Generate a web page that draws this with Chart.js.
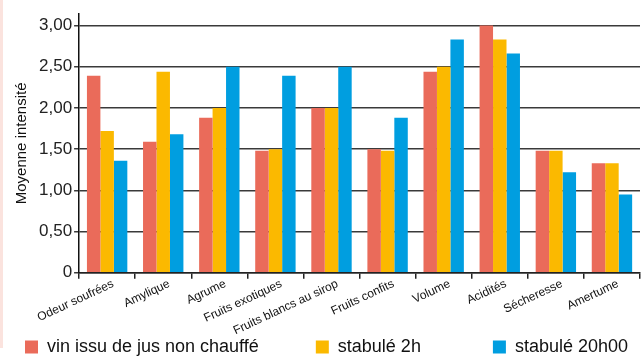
<!DOCTYPE html>
<html>
<head>
<meta charset="utf-8">
<script src="https://cdn.jsdelivr.net/npm/chart.js@4/dist/chart.umd.min.js"></script>
<style>
  html, body { margin: 0; padding: 0; background: #fff; }
  #wrap { position: relative; width: 641px; height: 359px; overflow: hidden; }
  #edge { position: absolute; left: 0; top: 0; width: 3px; height: 348px; background: #fbe3de; }
</style>
</head>
<body>
<div id="wrap">
  <div id="edge"></div>
  <canvas id="my-chart" width="641" height="366"></canvas>
</div>
<script>
'use strict';

// categories (x axis)
let categories = ['Odeur soufrées', 'Amylique', 'Agrume', 'Fruits exotiques', 'Fruits blancs au sirop',
  'Fruits confits', 'Volume', 'Acidités', 'Sécheresse', 'Amertume'];

// series values
let nonChauffe = [2.39, 1.59, 1.88, 1.48, 2.00, 1.50, 2.44, 3.00, 1.48, 1.33];
let stabule2h = [1.72, 2.44, 2.00, 1.50, 2.00, 1.48, 2.50, 2.83, 1.48, 1.33];
let stabule20h = [1.36, 1.68, 2.50, 2.39, 2.50, 1.88, 2.83, 2.66, 1.22, 0.95];

// series names
let seriesNames = ['vin issu de jus non chauffé', 'stabulé 2h', 'stabulé 20h00'];

// y ticks
let yTicks = [0, 0.5, 1, 1.5, 2, 2.5, 3];

let ctx = document.getElementById('my-chart');

function tickLabel(v) {
  if (v === 0) return '0';
  return v.toFixed(2).replace('.', ',');
}

// trailing spaces widen the legend items so they sit further apart
let legendGaps = [11, 14, 0];

let chartObject = {
  type: 'bar',
  data: {
    labels: categories,
    datasets: [{
      label: seriesNames[0],
      data: nonChauffe,
      backgroundColor: '#ea6b5a'
    },
    {
      label: seriesNames[1],
      data: stabule2h,
      backgroundColor: '#fbb900'
    },
    {
      label: seriesNames[2],
      data: stabule20h,
      backgroundColor: '#009ee0'
    }]
  },
  options: {
    responsive: false,
    animation: false,
    categoryPercentage: 0.72,
    barPercentage: 1,
    layout: { padding: { left: 13, right: 1, top: 14, bottom: 0 } },
    plugins: {
      tooltip: { enabled: false },
      legend: {
        position: 'bottom',
        labels: {
          boxWidth: 13,
          boxHeight: 13,
          padding: 2,
          color: '#111',
          font: { family: 'Liberation Sans', size: 18 },
          generateLabels: function(chart) {
            let items = Chart.defaults.plugins.legend.labels.generateLabels(chart);
            items.forEach(function(item, i) {
              item.text = item.text + ' '.repeat(legendGaps[i]);
            });
            return items;
          }
        }
      }
    },
    scales: {
      x: {
        offset: true,
        grid: { drawOnChartArea: false, drawTicks: true, tickLength: 6, color: '#222', lineWidth: 1.5 },
        border: { color: '#222', width: 1.5 },
        ticks: {
          minRotation: 25,
          maxRotation: 25,
          padding: -2,
          labelOffset: 6,
          color: '#111',
          font: { family: 'Liberation Sans Narrow, Liberation Sans', size: 12 }
        }
      },
      y: {
        min: 0,
        max: 3.14,
        afterBuildTicks: function(axis) {
          axis.ticks = yTicks.map(v => ({ value: v }));
        },
        grid: { color: '#3a3a3a', lineWidth: 1.5, tickLength: 5 },
        border: { color: '#111', width: 1.5 },
        ticks: {
          callback: tickLabel,
          padding: 2,
          color: '#222',
          font: { family: 'Liberation Sans', size: 17 }
        },
        title: {
          display: true,
          text: 'Moyenne intensité',
          color: '#111',
          padding: { top: 0, bottom: 6 },
          font: { family: 'Liberation Sans', size: 15 }
        }
      }
    }
  }
};

const myChart = new Chart(ctx, chartObject);
</script>
</body>
</html>
